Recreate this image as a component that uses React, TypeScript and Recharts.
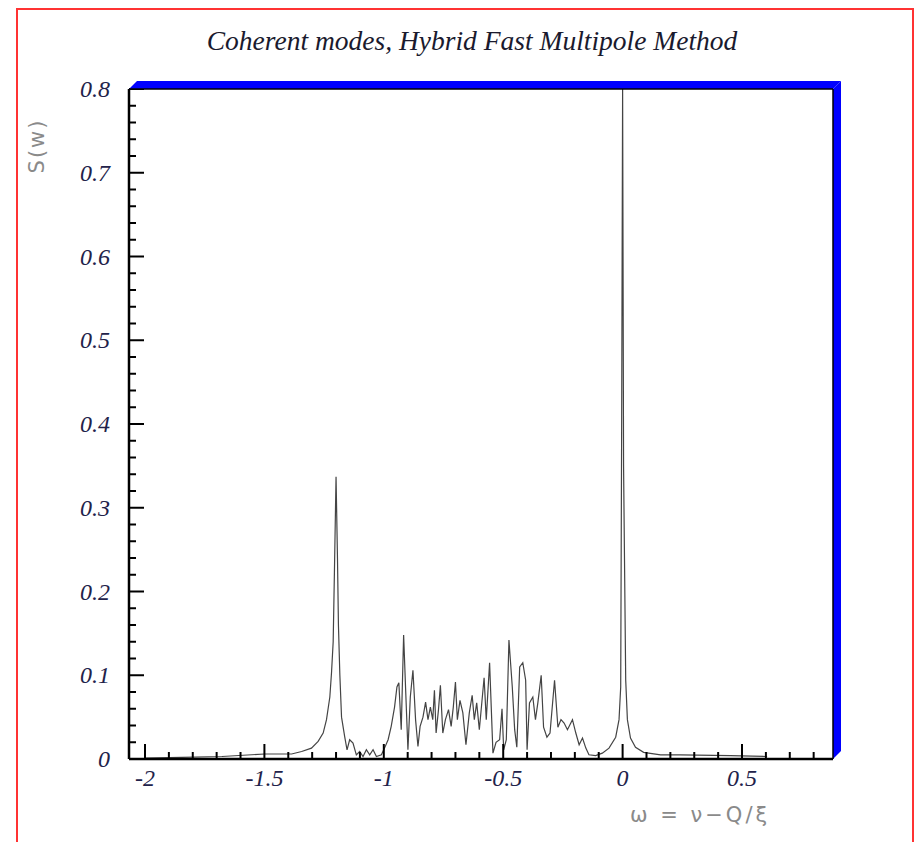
import React from 'react';
import { LineChart, Line, XAxis, YAxis } from 'recharts';

// frequency offset omega and spectral amplitude S(w)
const omega = [
  -2.0, -1.846, -1.678, -1.499, -1.386, -1.344, -1.303, -1.275, -1.254, -1.24,
  -1.226, -1.219, -1.212, -1.207, -1.2, -1.194, -1.19, -1.184, -1.177, -1.164,
  -1.154, -1.143, -1.129, -1.115, -1.101, -1.087, -1.073, -1.059, -1.045, -1.031,
  -1.01, -0.997, -0.982, -0.969, -0.955, -0.945, -0.937, -0.927, -0.917, -0.909,
  -0.899, -0.889, -0.878, -0.867, -0.857, -0.848, -0.836, -0.825, -0.815, -0.805,
  -0.795, -0.788, -0.781, -0.771, -0.763, -0.753, -0.742, -0.729, -0.718, -0.709,
  -0.7, -0.692, -0.681, -0.669, -0.656, -0.642, -0.63, -0.621, -0.611, -0.6,
  -0.58, -0.571, -0.557, -0.543, -0.53, -0.515, -0.505, -0.498, -0.487, -0.476,
  -0.462, -0.452, -0.443, -0.431, -0.418, -0.406, -0.4, -0.39, -0.376, -0.365,
  -0.355, -0.341, -0.331, -0.317, -0.304, -0.285, -0.271, -0.258, -0.245, -0.231,
  -0.21, -0.196, -0.182, -0.168, -0.154, -0.141, -0.113, -0.085, -0.057, -0.029,
  -0.015, -0.008, -0.004, 0.0, 0.004, 0.013, 0.02, 0.033, 0.054, 0.088,
  0.159, 0.242, 0.451, 0.605,
];

const spectrum = [
  0.001, 0.002, 0.003, 0.006, 0.006, 0.009, 0.013, 0.021, 0.031, 0.047,
  0.074, 0.103, 0.14, 0.22, 0.337, 0.24, 0.16, 0.1, 0.05, 0.027,
  0.011, 0.023, 0.019, 0.005, 0.009, 0.003, 0.011, 0.005, 0.011, 0.003,
  0.005, 0.013, 0.023, 0.039, 0.062, 0.086, 0.091, 0.035, 0.148, 0.086,
  0.011, 0.074, 0.106, 0.047, 0.015, 0.039, 0.05, 0.068, 0.047, 0.062,
  0.047, 0.082, 0.031, 0.059, 0.088, 0.031, 0.047, 0.059, 0.039, 0.062,
  0.092, 0.047, 0.07, 0.055, 0.017, 0.055, 0.076, 0.047, 0.067, 0.035,
  0.097, 0.047, 0.115, 0.007, 0.02, 0.023, 0.06, 0.011, 0.023, 0.142,
  0.086, 0.035, 0.014, 0.11, 0.115, 0.094, 0.011, 0.067, 0.074, 0.047,
  0.067, 0.1, 0.038, 0.026, 0.031, 0.094, 0.038, 0.047, 0.043, 0.035,
  0.047, 0.031, 0.017, 0.025, 0.013, 0.005, 0.004, 0.007, 0.013, 0.026,
  0.047, 0.086, 0.4, 0.8, 0.35, 0.094, 0.047, 0.025, 0.014, 0.008,
  0.005, 0.005, 0.004, 0.003,
];

const xLabels = [-2, -1.5, -1, -0.5, 0, 0.5];
const yLabels = [0, 0.1, 0.2, 0.3, 0.4, 0.5, 0.6, 0.7, 0.8];

const data = omega.map((w, i) => ({ w, s: spectrum[i] }));

// minor ticks: every 0.1 on x, every 0.02 on y
const xTicks = Array.from({ length: 29 }, (_, i) => Math.round((-2 + i * 0.1) * 10) / 10);
const yTicks = Array.from({ length: 41 }, (_, i) => (i * 2) / 100);

const W = 918;
const H = 842;
const PLOT = { left: 129, top: 89, right: 833, bottom: 759 };
const Y_AXIS_W = 60;
const X_AXIS_H = 40;
const SHADOW = 8;

const serif = '"Liberation Serif", "DejaVu Serif", serif';
const sans = '"DejaVu Sans", sans-serif';
const labelColor = '#22224a';

const isMajor = (v: number, labels: number[]) => labels.some((l) => Math.abs(l - v) < 1e-6);

const XTick = (props: any) => {
  const { x, y, payload } = props;
  const major = isMajor(payload.value, xLabels);
  return (
    <g>
      <line x1={x} x2={x} y1={y} y2={y - (major ? 15 : 7)} stroke='#000' strokeWidth={2} />
      {major && (
        <text x={x} y={y + 27} textAnchor='middle' fontFamily={serif} fontStyle='italic' fontSize={24} fill={labelColor}>
          {String(payload.value)}
        </text>
      )}
    </g>
  );
};

const YTick = (props: any) => {
  const { x, y, payload } = props;
  const major = isMajor(payload.value, yLabels);
  return (
    <g>
      <line x1={x} x2={x + (major ? 15 : 7)} y1={y} y2={y} stroke='#000' strokeWidth={2} />
      {major && (
        <text x={x - 19} y={y + 8} textAnchor='end' fontFamily={serif} fontStyle='italic' fontSize={24} fill={labelColor}>
          {String(payload.value)}
        </text>
      )}
    </g>
  );
};

const Frame = () => {
  const { left, top, right, bottom } = PLOT;
  const d = SHADOW;
  return (
    <svg width={W} height={H} style={{ position: 'absolute', left: 0, top: 0, pointerEvents: 'none' }}>
      <polygon points={`${left},${top} ${left + d},${top - d} ${right + d},${top - d} ${right},${top}`} fill='#0000ff' />
      <polygon points={`${right},${top} ${right + d},${top - d} ${right + d},${bottom - d} ${right},${bottom}`} fill='#0000ff' />
      <line x1={left} x2={right} y1={top} y2={top} stroke='#000' strokeWidth={1.5} />
      <line x1={right} x2={right} y1={top} y2={bottom} stroke='#000' strokeWidth={1.5} />
    </svg>
  );
};

export default function App() {
  return (
    <div style={{ position: 'absolute', left: 0, top: 0, width: W, height: H, background: '#fff', overflow: 'hidden' }}>
      <div
        style={{
          position: 'absolute',
          left: 16,
          top: 8,
          width: 894,
          height: H,
          borderLeft: '2px solid #ff3333',
          borderTop: '2px solid #ff3333',
          borderRight: '2px solid #ff3333',
        }}
      />
      <div
        style={{
          position: 'absolute',
          top: 25,
          left: 0,
          width: 944,
          textAlign: 'center',
          fontFamily: serif,
          fontStyle: 'italic',
          fontSize: 27.5,
          color: '#1a1a2e',
        }}
      >
        Coherent modes, Hybrid Fast Multipole Method
      </div>
      <div style={{ position: 'absolute', left: 0, top: 0 }}>
        <LineChart
          width={W}
          height={H}
          data={data}
          margin={{
            top: PLOT.top,
            right: W - PLOT.right,
            bottom: H - PLOT.bottom - X_AXIS_H,
            left: PLOT.left - Y_AXIS_W,
          }}
        >
          <XAxis
            dataKey='w'
            type='number'
            domain={[-2.067, 0.881]}
            ticks={xTicks}
            allowDataOverflow
            height={X_AXIS_H}
            tickSize={0}
            tickMargin={0}
            tickLine={false}
            interval={0}
            axisLine={{ stroke: '#000', strokeWidth: 2.5 }}
            tick={<XTick />}
          />
          <YAxis
            type='number'
            domain={[0, 0.8]}
            ticks={yTicks}
            allowDataOverflow
            width={Y_AXIS_W}
            tickSize={0}
            tickMargin={0}
            tickLine={false}
            interval={0}
            axisLine={{ stroke: '#000', strokeWidth: 2.5 }}
            tick={<YTick />}
          />
          <Line
            type='linear'
            dataKey='s'
            stroke='#444'
            strokeWidth={1.2}
            dot={false}
            isAnimationActive={false}
          />
        </LineChart>
      </div>
      <Frame />
      <div
        style={{
          position: 'absolute',
          left: 37,
          top: 146,
          transform: 'translate(-50%, -50%) rotate(-90deg)',
          fontFamily: sans,
          fontSize: 21,
          letterSpacing: 2,
          color: '#8a8a8a',
          whiteSpace: 'nowrap',
        }}
      >
        S(w)
      </div>
      <div
        style={{
          position: 'absolute',
          left: 630,
          top: 803,
          fontFamily: sans,
          fontSize: 21,
          letterSpacing: 3,
          color: '#8a8a8a',
          whiteSpace: 'nowrap',
        }}
      >
        ω = ν−Q/ξ
      </div>
    </div>
  );
}
